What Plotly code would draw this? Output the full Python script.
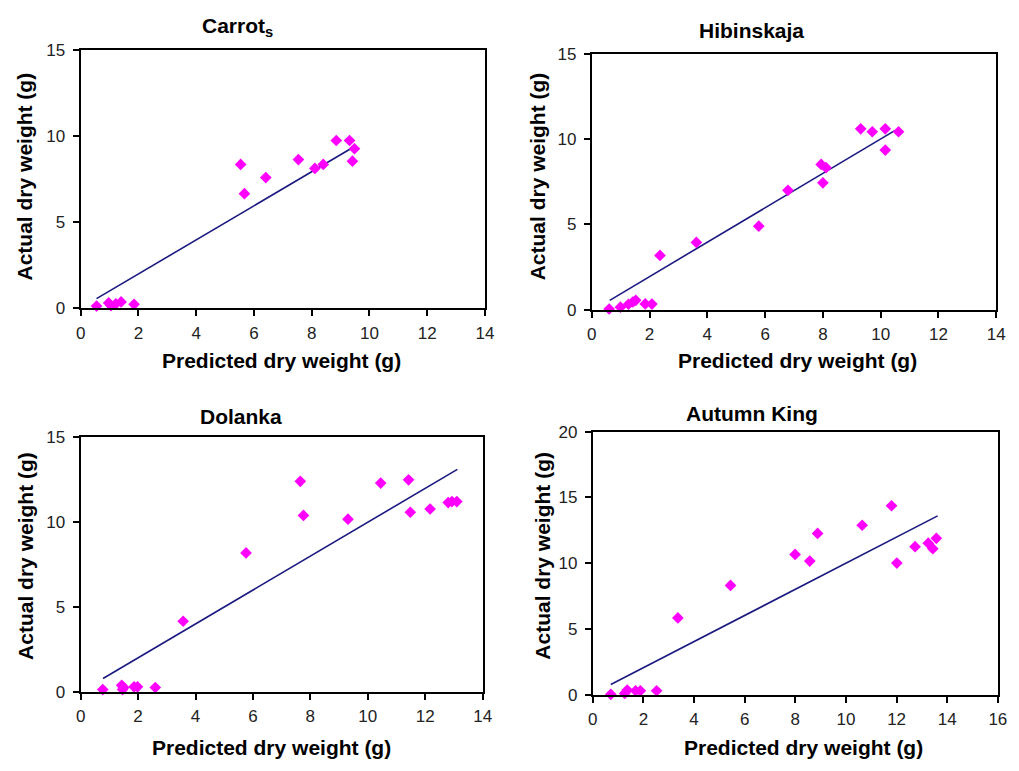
import plotly.graph_objects as go

# ---- data ----
carrot_x = [0.55, 0.97, 1.05, 1.22, 1.40, 1.85, 5.54, 5.67, 6.41, 7.54, 8.11, 8.40, 8.85, 9.31, 9.48, 9.41]
carrot_y = [0.12, 0.30, 0.15, 0.25, 0.36, 0.22, 8.34, 6.64, 7.58, 8.62, 8.11, 8.34, 9.73, 9.73, 9.25, 8.53]
carrot_line_x = [0.55, 9.45]
carrot_line_y = [0.55, 9.35]

hib_x = [0.60, 0.99, 1.27, 1.42, 1.52, 1.85, 2.08, 2.36, 3.62, 5.78, 6.79, 7.94, 8.11, 8.00, 9.31, 9.71, 10.16, 10.16, 10.62]
hib_y = [0.04, 0.15, 0.32, 0.45, 0.55, 0.34, 0.33, 3.18, 3.94, 4.89, 6.99, 8.51, 8.32, 7.43, 10.59, 10.42, 10.59, 9.35, 10.42]
hib_line_x = [0.62, 10.5]
hib_line_y = [0.55, 10.5]

dol_x = [0.77, 1.43, 1.46, 1.50, 1.86, 1.98, 2.60, 3.57, 5.76, 7.65, 7.76, 9.31, 10.45, 11.42, 11.48, 12.17, 12.80, 12.93, 13.10]
dol_y = [0.13, 0.38, 0.13, 0.25, 0.29, 0.29, 0.25, 4.16, 8.19, 12.41, 10.40, 10.18, 12.31, 12.50, 10.59, 10.78, 11.16, 11.22, 11.22]
dol_line_x = [0.78, 13.12]
dol_line_y = [0.78, 13.12]

ak_x = [0.71, 1.26, 1.36, 1.69, 1.88, 2.52, 3.36, 5.44, 7.99, 8.57, 8.88, 10.64, 11.80, 12.01, 12.73, 13.25, 13.43, 13.57]
ak_y = [0.05, 0.12, 0.37, 0.32, 0.32, 0.32, 5.85, 8.32, 10.67, 10.17, 12.27, 12.89, 14.37, 10.02, 11.26, 11.53, 11.11, 11.90]
ak_line_x = [0.71, 13.62]
ak_line_y = [0.79, 13.6]

titles = ["Carrot<sub>s</sub>", "Hibinskaja", "Dolanka", "Autumn King"]
x_title = "Predicted dry weight (g)"
y_title = "Actual dry weight (g)"
x_ranges = [[0, 14], [0, 14], [0, 14], [0, 16]]
y_ranges = [[0, 15], [0, 15], [0, 15], [0, 20]]
y_dticks = [5, 5, 5, 5]

W, H = 1019, 771
# pixel boxes (left, right, top, bottom)
boxes = [(76.7, 486.7, 41.7, 306.7),
         (595, 1005, 45.7, 308.3),
         (76.7, 484.3, 439.3, 700),
         (596, 1006.7, 433.3, 703.3)]
title_pos = [(236, 18), (757, 22), (239, 418), (757, 415)]
xt_pos = [(280, 360), (804, 360), (270, 757), (810, 757)]
yt_pos = [(20, 172), (540, 172), (20, 561), (545, 561)]

series = [(carrot_x, carrot_y, carrot_line_x, carrot_line_y),
          (hib_x, hib_y, hib_line_x, hib_line_y),
          (dol_x, dol_y, dol_line_x, dol_line_y),
          (ak_x, ak_y, ak_line_x, ak_line_y)]

FONT = "Liberation Sans, Arial, sans-serif"
fig = go.Figure()
layout = dict(width=W, height=H, margin=dict(l=0, r=0, t=0, b=0),
              paper_bgcolor="white", plot_bgcolor="white", showlegend=False,
              font=dict(family=FONT, color="#111"))
annotations = []
for i, (sx, sy, lx, ly) in enumerate(series):
    n = "" if i == 0 else str(i + 1)
    xa, ya = "x" + n, "y" + n
    fig.add_trace(go.Scatter(x=lx, y=ly, mode="lines", xaxis=xa, yaxis=ya,
                             line=dict(color="#1a1a80", width=1.6)))
    fig.add_trace(go.Scatter(x=sx, y=sy, mode="markers", xaxis=xa, yaxis=ya, cliponaxis=False,
                             marker=dict(symbol="diamond", size=9, color="#ff00ff", line=dict(width=0))))
    l, r, t, b = boxes[i]
    axstyle = dict(showline=True, linecolor="black", linewidth=2, mirror=True, showgrid=False,
                   zeroline=False, ticks="outside", ticklen=6, tickwidth=1.5, tickcolor="black",
                   tickfont=dict(family=FONT, size=17, color="#222"))
    layout["xaxis" + n] = dict(domain=[l / W, r / W], range=x_ranges[i], dtick=2, anchor=ya,
                               ticklabelstandoff=2, **axstyle)
    layout["yaxis" + n] = dict(domain=[1 - b / H, 1 - t / H], range=y_ranges[i], dtick=y_dticks[i],
                               anchor=xa, ticklabelstandoff=4, **axstyle)
    tx, ty = title_pos[i]
    annotations.append(dict(text="<b>" + titles[i] + "</b>", x=tx / W, y=1 - ty / H, xref="paper", yref="paper",
                            showarrow=False, xanchor="center", yanchor="middle",
                            font=dict(family=FONT, size=21, color="black")))
    tx, ty = xt_pos[i]
    annotations.append(dict(text="<b>" + x_title + "</b>", x=tx / W, y=1 - ty / H, xref="paper", yref="paper",
                            showarrow=False, xanchor="center", yanchor="middle",
                            font=dict(family=FONT, size=21, color="black")))
    tx, ty = yt_pos[i]
    annotations.append(dict(text="<b>" + y_title + "</b>", x=tx / W, y=1 - ty / H, xref="paper", yref="paper",
                            showarrow=False, xanchor="center", yanchor="middle", textangle=-90,
                            font=dict(family=FONT, size=21, color="black")))
layout["annotations"] = annotations
fig.update_layout(**layout)
fig.write_html("out.html")
